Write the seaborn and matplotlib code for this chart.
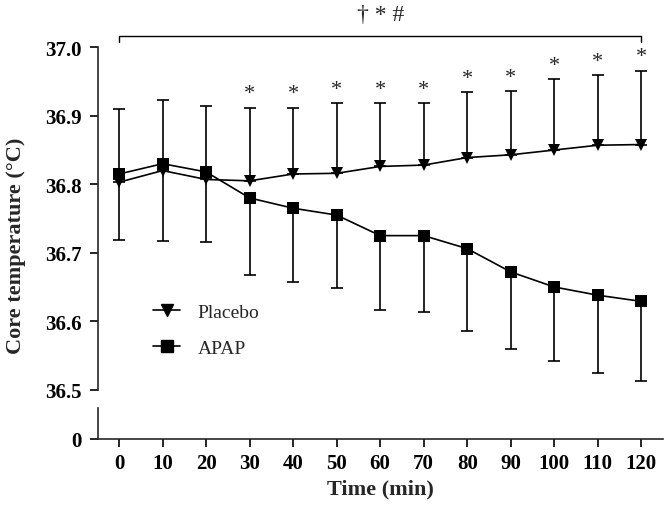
import numpy as np
import pandas as pd
import matplotlib
matplotlib.use('Agg')
import matplotlib.pyplot as plt
import seaborn as sns
from matplotlib.lines import Line2D

# Values
time_min = [0, 10, 20, 30, 40, 50, 60, 70, 80, 90, 100, 110, 120]
placebo_mean = [36.803, 36.820, 36.807, 36.805, 36.815, 36.816, 36.826, 36.828,
                36.839, 36.843, 36.850, 36.857, 36.858]
placebo_top = [36.910, 36.923, 36.914, 36.912, 36.912, 36.918, 36.919, 36.919,
               36.934, 36.936, 36.953, 36.960, 36.966]
apap_mean = [36.815, 36.830, 36.818, 36.780, 36.765, 36.755, 36.725, 36.725,
             36.706, 36.672, 36.650, 36.638, 36.629]
apap_bottom = [36.719, 36.717, 36.715, 36.668, 36.657, 36.648, 36.617, 36.614,
               36.586, 36.560, 36.542, 36.524, 36.512]
star_times = [30, 40, 50, 60, 70, 80, 90, 100, 110, 120]
y_ticks = [36.5, 36.6, 36.7, 36.8, 36.9, 37.0]
x_ticks = time_min

sns.set_style('ticks')
plt.rcParams['font.family'] = ['Liberation Serif', 'DejaVu Serif']

df = pd.DataFrame({
    'time': time_min * 2,
    'temp': placebo_mean + apap_mean,
    'group': ['Placebo'] * len(time_min) + ['APAP'] * len(time_min),
})

fig = plt.figure(figsize=(6.66, 5.06), dpi=100)
x_left, x_width = 98 / 666, (663 - 98) / 666
ax = fig.add_axes([x_left, 1 - 390.7 / 506, x_width, (390.7 - 48.3) / 506])
ax_low = fig.add_axes([x_left, 1 - 440 / 506, x_width, (440 - 409.3) / 506])

xlim = (-4.85, 125.0)

# error bars (one-sided)
pl = np.array(placebo_mean)
ap = np.array(apap_mean)
ax.errorbar(time_min, pl, yerr=[np.zeros_like(pl), np.array(placebo_top) - pl],
            fmt='none', ecolor='black', elinewidth=1.2, capsize=4.2, capthick=1.2, zorder=1)
ax.errorbar(time_min, ap, yerr=[ap - np.array(apap_bottom), np.zeros_like(ap)],
            fmt='none', ecolor='black', elinewidth=1.2, capsize=4.2, capthick=1.2, zorder=1)

sns.lineplot(data=df, x='time', y='temp', hue='group', style='group',
             hue_order=['Placebo', 'APAP'],
             palette={'Placebo': 'black', 'APAP': 'black'},
             markers={'Placebo': 'v', 'APAP': 's'}, dashes=False,
             markersize=8.5, markeredgewidth=0, linewidth=1.2,
             legend=False, ax=ax, zorder=3)

# significance stars
for t in star_times:
    i = time_min.index(t)
    ax.annotate('*', (t, placebo_top[i]), xytext=(0, 3), textcoords='offset points',
                ha='center', va='bottom', fontsize=16)

# bracket across the whole time course
yb = 37.017
ax.plot([0, 0, 120, 120], [yb - 0.009, yb, yb, yb - 0.009], color='black',
        lw=1.0, clip_on=False)
ax.text(60, 37.032, '\u2020 * #', ha='center', va='bottom', fontsize=17, clip_on=False)

ax.set_xlim(*xlim)
ax.set_ylim(36.5, 37.0)
ax.set_yticks(y_ticks)
ax.set_yticklabels([f'{v:.1f}' for v in y_ticks])
ax.set_xticks([])
ax.set_xlabel('')
ax.set_ylabel('')
for s in ['top', 'right', 'bottom']:
    ax.spines[s].set_visible(False)
ax.spines['left'].set_linewidth(1.2)

ax_low.set_xlim(*xlim)
ax_low.set_ylim(0, 1)
ax_low.set_yticks([0])
ax_low.set_yticklabels(['0'])
ax_low.set_xticks(x_ticks)
for s in ['top', 'right']:
    ax_low.spines[s].set_visible(False)
ax_low.spines['left'].set_linewidth(1.2)
ax_low.spines['bottom'].set_linewidth(1.2)
ax_low.set_xlabel('Time (min)', fontsize=16, fontweight='bold', labelpad=4)

for a in (ax, ax_low):
    a.tick_params(direction='out', length=6, width=1.2, labelsize=15, colors='black', pad=5.5)
    for lab in a.get_xticklabels() + a.get_yticklabels():
        lab.set_fontweight('bold')
ax_low.tick_params(axis='x', pad=4)

fig.text(0.024, 1 - 246 / 506, 'Core temperature (\u00b0C)',
         rotation=90, ha='center', va='center', fontsize=16, fontweight='bold')

handles = [Line2D([0], [0], color='black', marker='v', markersize=8.5, lw=1.2),
           Line2D([0], [0], color='black', marker='s', markersize=8.5, lw=1.2)]
ax.legend(handles, ['Placebo', 'APAP'], loc='center left',
          bbox_to_anchor=(0.08, 1 - (331 - 48.3) / (390.7 - 48.3)),
          frameon=False, fontsize=14, handlelength=1.4, labelspacing=0.95,
          handletextpad=0.9, borderpad=0)

fig.savefig('out.png', dpi=100)
